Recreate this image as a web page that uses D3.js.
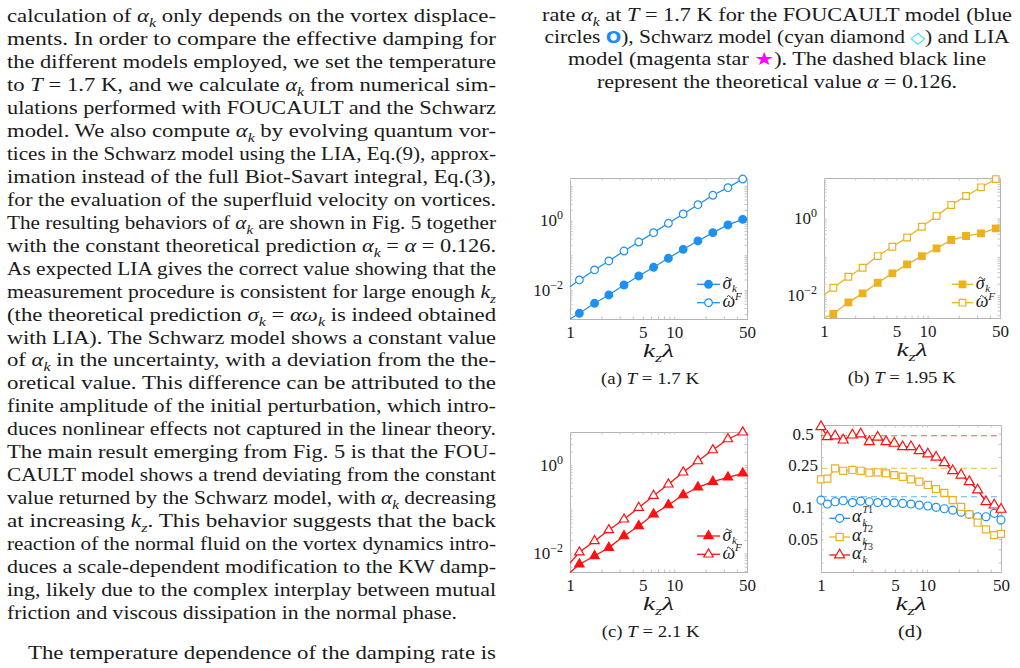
<!DOCTYPE html>
<html>
<head>
<meta charset="utf-8">
<script src="https://cdn.jsdelivr.net/npm/d3@7"></script>
<style>
  body { margin: 0; background: #fff; }
  svg { display: block; }
</style>
</head>
<body>
<div id="page"></div>
<script>
// ---- data ----
const kzRange = [1, 50];
const xTickVals = [1, 5, 10, 50];
const yTickPow = [1e-2, 1];
const yTickD = [0.05, 0.1, 0.25, 0.5];

// marker positions for panels (a)-(c)
const kzMarks = [1.23, 1.72, 2.36, 3.30, 4.57, 6.34, 8.80, 12.2, 16.9, 23.5, 32.8, 45.5];

const sigmaA = [0.00213, 0.00414, 0.00718, 0.0139, 0.0253, 0.0450, 0.0817, 0.148, 0.257, 0.446, 0.743, 1.08];
const omegaA = [0.0194, 0.0377, 0.0684, 0.132, 0.240, 0.446, 0.830, 1.54, 2.85, 5.31, 8.79, 15.6];
const startA = [0.00146, 0.01245]; // sigma, omega at kz = 1

const sigmaB = [0.00324, 0.00653, 0.0112, 0.0212, 0.0372, 0.064, 0.105, 0.167, 0.275, 0.35, 0.411, 0.555];
const omegaB = [0.0157, 0.0303, 0.0521, 0.105, 0.184, 0.32, 0.611, 1.16, 2.25, 3.86, 6.52, 10.7];
const startB = [0.00255, 0.0101];

const sigmaC = [0.00566, 0.00873, 0.0135, 0.0248, 0.0417, 0.0766, 0.124, 0.209, 0.313, 0.42, 0.527, 0.649];
const omegaC = [0.0106, 0.0191, 0.0338, 0.059, 0.108, 0.202, 0.366, 0.684, 1.23, 2.18, 3.87, 5.5];
const startC = [0.0037, 0.006];

// panel (d)
const kzD = [1, 1.15, 1.36, 1.62, 1.98, 2.37, 2.86, 3.43, 4.11, 4.92, 5.9, 7.07, 8.47, 10.2, 12.2, 14.6, 17.5, 21.0, 25.1, 30.1, 36.1, 43.2, 50];
const alphaT1 = [0.117, 0.1075, 0.113, 0.1155, 0.111, 0.1147, 0.113, 0.111, 0.111, 0.1105, 0.109, 0.1075, 0.105, 0.103, 0.100, 0.097, 0.094, 0.090, 0.086, 0.0815, 0.0815, 0.0877, 0.076];
const alphaT2 = [0.184, 0.187, 0.234, 0.222, 0.226, 0.222, 0.213, 0.215, 0.210, 0.202, 0.195, 0.184, 0.175, 0.163, 0.149, 0.137, 0.117, 0.101, 0.0859, 0.0715, 0.0618, 0.0546, 0.056];
const alphaT3 = [0.581, 0.467, 0.474, 0.434, 0.484, 0.495, 0.419, 0.461, 0.419, 0.404, 0.375, 0.375, 0.344, 0.32, 0.298, 0.265, 0.222, 0.202, 0.175, 0.146, 0.113, 0.105, 0.0957];
const alphaTheory = [0.126, 0.234, 0.477];

const bodyLines = [
  'calculation of $α_k$ only depends on the vortex displace-',
  'ments.  In order to compare the effective damping for',
  'the different models employed, we set the temperature',
  'to $T$ = 1.7 K, and we calculate $α_k$ from numerical sim-',
  'ulations performed with FOUCAULT and the Schwarz',
  'model.  We also compute $α_k$ by evolving quantum vor-',
  'tices in the Schwarz model using the LIA, Eq.(9), approx-',
  'imation instead of the full Biot-Savart integral, Eq.(3),',
  'for the evaluation of the superfluid velocity on vortices.',
  'The resulting behaviors of $α_k$ are shown in Fig. 5 together',
  'with the constant theoretical prediction $α_k$ = $α$ = 0.126.',
  'As expected LIA gives the correct value showing that the',
  'measurement procedure is consistent for large enough $k_z$',
  '(the theoretical prediction $σ_k$ = $αω_k$ is indeed obtained',
  'with LIA). The Schwarz model shows a constant value',
  'of $α_k$ in the uncertainty, with a deviation from the the-',
  'oretical value.  This difference can be attributed to the',
  'finite amplitude of the initial perturbation, which intro-',
  'duces nonlinear effects not captured in the linear theory.',
  'The main result emerging from Fig. 5 is that the FOU-',
  'CAULT model shows a trend deviating from the constant',
  'value returned by the Schwarz model, with $α_k$ decreasing',
  'at increasing $k_z$.  This behavior suggests that the back',
  'reaction of the normal fluid on the vortex dynamics intro-',
  'duces a scale-dependent modification to the KW damp-',
  'ing, likely due to the complex interplay between mutual',
  'friction and viscous dissipation in the normal phase.'
];
const lastLine = 'The temperature dependence of the damping rate is';

const captionLines = [
  'rate $α_k$ at $T$ = 1.7 K for the FOUCAULT model (blue',
  'circles ○), Schwarz model (cyan diamond ◇) and LIA',
  'model (magenta star ★). The dashed black line',
  'represent the theoretical value $α$ = 0.126.'
];
const captionWidths = [470, 465, 418, 360];

// ---- style ----
const blue = '#1e90f0';
const yellow = '#edb120';
const red = '#ff1010';
const symbolStyle = {
  '○': { text: 'O', color: '#1a8cff', weight: 'bold', size: 0.85 },
  '◇': { text: '◇', color: '#30e0f0', weight: 'normal', size: 0.9 },
  '★': { text: '★', color: '#ff00ff', weight: 'normal', size: 1.0 }
};
const ink = '#1a1a1a';

const svg = d3.select('#page').append('svg')
  .attr('width', 1020)
  .attr('height', 668)
  .style('font-family', '"Liberation Serif", "DejaVu Serif", serif')
  .attr('fill', ink);

// text with simple math: $..$ italic, _c subscript, ^c superscript
function addRich(text, str, size) {
  const runs = [];
  let math = false;
  for (let i = 0; i < str.length; i++) {
    let c = str[i];
    if (c === '$') { math = !math; continue; }
    let shift = 0;
    if (math && (c === '_' || c === '^')) {
      shift = c === '_' ? 1 : -1;
      c = str[++i];
    }
    const italic = math && /[A-Za-zα-ω]/.test(c);
    const sym = symbolStyle[c] || null;
    const last = runs[runs.length - 1];
    if (!sym && last && !last.sym && last.italic === italic && last.shift === shift) {
      last.s += c;
    } else {
      runs.push({ s: sym ? sym.text : c, italic, shift, sym });
    }
  }
  let cur = 0;
  runs.forEach(r => {
    const t = text.append('tspan').text(r.s);
    const target = r.shift === 1 ? size * 0.28 : r.shift === -1 ? -size * 0.4 : 0;
    if (target !== cur) {
      t.attr('dy', target - cur);
      cur = target;
    }
    if (r.shift) t.attr('font-size', size * 0.7);
    if (r.italic) t.attr('font-style', 'italic');
    if (r.sym) {
      t.attr('fill', r.sym.color)
        .attr('font-family', '"DejaVu Sans", sans-serif')
        .attr('font-weight', r.sym.weight)
        .attr('font-size', size * r.sym.size);
    }
  });
  return text;
}

// ---- left column ----
const bodySize = 18;
bodyLines.forEach((line, i) => {
  const t = svg.append('text')
    .attr('x', 7)
    .attr('y', 16.7 + i * 22.95 + 5.5)
    .attr('font-size', bodySize)
    .attr('textLength', i === bodyLines.length - 1 ? 450 : 489)
    .attr('lengthAdjust', 'spacingAndGlyphs');
  addRich(t, line, bodySize);
});
svg.append('text')
  .attr('x', 28)
  .attr('y', 653.3 + 5.5)
  .attr('font-size', bodySize)
  .attr('textLength', 468)
  .attr('lengthAdjust', 'spacingAndGlyphs')
  .text(lastLine);

// ---- caption at top right ----
captionLines.forEach((line, i) => {
  const t = svg.append('text')
    .attr('x', 777)
    .attr('y', 15 + i * 22.4 + 5.5)
    .attr('font-size', bodySize)
    .attr('text-anchor', 'middle')
    .attr('textLength', captionWidths[i])
    .attr('lengthAdjust', 'spacingAndGlyphs');
  addRich(t, line, bodySize);
});

// ---- panels ----
const shapes = {
  circle: { type: d3.symbolCircle, size: 46 },
  square: { type: d3.symbolSquare, size: 44 },
  triangle: { type: d3.symbolTriangle, size: 38 }
};

// tilde-accented symbol with sub/superscript, e.g. sigma~_k
function accentLabel(g, x, y, glyph, sub, sup) {
  const w = glyph === 'ω' ? 12 : 9;
  g.append('text').attr('x', x).attr('y', y)
    .attr('font-size', 18).attr('font-style', 'italic').text(glyph);
  const tx = x + w / 2 - 1.5;
  const ty = y - 11.5;
  g.append('path')
    .attr('d', `M${tx},${ty + 1} q1.5,-2.4 3,0 t3,0`)
    .attr('fill', 'none')
    .attr('stroke', ink)
    .attr('stroke-width', 0.9);
  if (sub) {
    g.append('text').attr('x', x + w + 0.5).attr('y', y + 3.5)
      .attr('font-size', 11).attr('font-style', 'italic').text(sub);
  }
  if (sup) {
    g.append('text').attr('x', x + w + 0.5).attr('y', y - 7.5)
      .attr('font-size', 11).attr('font-style', 'italic').text(sup);
  }
}

function drawPanel(p) {
  const x = d3.scaleLog().domain(kzRange).range([p.left, p.left + p.width]);
  const y = d3.scaleLog().domain(p.yDomain).range([p.top + p.height, p.top]);
  const g = svg.append('g');

  g.append('rect')
    .attr('x', p.left)
    .attr('y', p.top)
    .attr('width', p.width)
    .attr('height', p.height)
    .attr('fill', '#fff')
    .attr('stroke', '#b4b4b4')
    .attr('shape-rendering', 'crispEdges');

  // small inner ticks on all four sides
  const tickG = g.append('g');
  const xMinor = x.ticks();
  const yMinor = y.ticks();
  [[d3.axisBottom(x), `translate(0,${p.top + p.height})`, xMinor],
   [d3.axisTop(x), `translate(0,${p.top})`, xMinor],
   [d3.axisLeft(y), `translate(${p.left},0)`, yMinor],
   [d3.axisRight(y), `translate(${p.left + p.width},0)`, yMinor]]
    .forEach(([ax, tr, vals]) => {
      const a = tickG.append('g')
        .attr('transform', tr)
        .call(ax.tickValues(vals).tickSize(-2.5).tickFormat(''));
      a.select('.domain').remove();
      a.selectAll('line').attr('stroke', '#c4c4c4');
    });

  // tick labels
  const xAxis = g.append('g')
    .attr('transform', `translate(0,${p.top + p.height})`)
    .call(d3.axisBottom(x).tickValues(xTickVals).tickSize(0).tickPadding(7).tickFormat(d3.format('d')));
  xAxis.select('.domain').remove();
  xAxis.selectAll('text')
    .attr('font-family', '"Liberation Serif", serif')
    .attr('font-size', 17)
    .attr('fill', ink);

  const yAxis = g.append('g')
    .attr('transform', `translate(${p.left},0)`)
    .call(d3.axisLeft(y).tickValues(p.yTicks).tickSize(0).tickPadding(7));
  yAxis.select('.domain').remove();
  yAxis.selectAll('text')
    .attr('font-family', '"Liberation Serif", serif')
    .attr('font-size', 17)
    .attr('fill', ink);
  if (p.powLabels) {
    yAxis.selectAll('text').each(function (d) {
      const e = Math.round(Math.log10(d));
      const t = d3.select(this).text('10');
      t.append('tspan')
        .attr('dy', -7)
        .attr('font-size', 12)
        .text(e === 0 ? '0' : '−' + Math.abs(e));
    });
  } else {
    yAxis.selectAll('text')
      .attr('text-anchor', 'middle')
      .attr('x', -18)
      .text(d => String(d));
  }

  // dashed theory lines
  (p.dashed || []).forEach(dl => {
    g.append('line')
      .attr('x1', x(kzRange[0]))
      .attr('x2', x(kzRange[1]))
      .attr('y1', y(dl.value))
      .attr('y2', y(dl.value))
      .attr('stroke', dl.color)
      .attr('stroke-opacity', 0.7)
      .attr('stroke-width', 1.2)
      .attr('stroke-dasharray', '6,4');
  });

  const line = d3.line().x(d => x(d[0])).y(d => y(d[1]));

  p.series.forEach(s => {
    g.append('path')
      .datum(s.line)
      .attr('fill', 'none')
      .attr('stroke', s.color)
      .attr('stroke-width', 1.3)
      .attr('d', line);
    const sh = shapes[s.shape];
    g.selectAll(null)
      .data(s.marks)
      .join('path')
      .attr('transform', d => `translate(${x(d[0])},${y(d[1])})`)
      .attr('d', d3.symbol().type(sh.type).size(s.size || sh.size))
      .attr('fill', s.filled ? s.color : '#fff')
      .attr('stroke', s.color)
      .attr('stroke-width', 1.2);
  });

  // legend
  const lg = p.legend;
  p.series.forEach((s, i) => {
    const ly = lg.ys[i];
    g.append('line')
      .attr('x1', lg.x0).attr('x2', lg.x1)
      .attr('y1', ly).attr('y2', ly)
      .attr('stroke', s.color)
      .attr('stroke-width', 1.3);
    const sh = shapes[s.shape];
    g.append('path')
      .attr('transform', `translate(${(lg.x0 + lg.x1) / 2},${ly})`)
      .attr('d', d3.symbol().type(sh.type).size(s.size || sh.size))
      .attr('fill', s.filled ? s.color : '#fff')
      .attr('stroke', s.color)
      .attr('stroke-width', 1.2);
    if (s.accent) {
      accentLabel(g, lg.x1 + 2.5, ly + 4.5, s.accent.glyph, s.accent.sub, s.accent.sup);
    } else if (s.alphaLabel) {
      g.append('text')
        .attr('x', lg.x1 + 2).attr('y', ly + 4)
        .attr('font-size', 18).attr('font-style', 'italic')
        .text('α');
      const sup = g.append('text')
        .attr('x', lg.x1 + 12.5).attr('y', ly - 5.5)
        .attr('font-size', 10);
      sup.append('tspan').attr('font-style', 'italic').text('T');
      sup.append('tspan').text(s.alphaLabel);
      g.append('text')
        .attr('x', lg.x1 + 12.5).attr('y', ly + 8)
        .attr('font-size', 10).attr('font-style', 'italic')
        .text('k');
    }
  });

  // axis label and caption
  const kl = g.append('text')
    .attr('x', p.left + p.width / 2)
    .attr('y', p.top + p.height + 37.5)
    .attr('font-size', 19)
    .attr('text-anchor', 'middle')
    .attr('textLength', 31)
    .attr('lengthAdjust', 'spacingAndGlyphs');
  addRich(kl, '$k_zλ$', 19);

  const cap = g.append('text')
    .attr('x', p.captionX)
    .attr('y', p.top + p.height + 64.5)
    .attr('font-size', 17)
    .attr('text-anchor', 'middle')
    .attr('textLength', p.captionW)
    .attr('lengthAdjust', 'spacingAndGlyphs');
  addRich(cap, p.caption, 17);
}

function logSeries(sigma, omega, start, color, shape) {
  const sig = kzMarks.map((k, i) => [k, sigma[i]]);
  const om = kzMarks.map((k, i) => [k, omega[i]]);
  return [
    { line: [[1, start[0]], ...sig], marks: sig, color, shape, filled: true, accent: { glyph: 'σ', sub: 'k' } },
    { line: [[1, start[1]], ...om], marks: om, color, shape, filled: false, accent: { glyph: 'ω', sup: 'F' } }
  ];
}

drawPanel({
  left: 570, top: 178, width: 177, height: 141,
  yDomain: [0.00146, 16.7], yTicks: yTickPow, powLabels: true,
  series: logSeries(sigmaA, omegaA, startA, blue, 'circle'),
  legend: { x0: 697, x1: 720, ys: [284.3, 302.7] },
  captionX: 650, captionW: 98, caption: '(a) $T$ = 1.7 K'
});

drawPanel({
  left: 824, top: 178, width: 176, height: 140,
  yDomain: [0.00255, 11.4], yTicks: yTickPow, powLabels: true,
  series: logSeries(sigmaB, omegaB, startB, yellow, 'square'),
  legend: { x0: 951.7, x1: 973.3, ys: [284.3, 302.7] },
  captionX: 901.7, captionW: 108, caption: '(b) $T$ = 1.95 K'
});

drawPanel({
  left: 570, top: 432, width: 177, height: 140,
  yDomain: [0.00379, 5.58], yTicks: yTickPow, powLabels: true,
  series: logSeries(sigmaC, omegaC, startC, red, 'triangle'),
  legend: { x0: 697, x1: 720, ys: [536, 554.3] },
  captionX: 650.7, captionW: 98, caption: '(c) $T$ = 2.1 K'
});

const dSeries = [
  [alphaT1, blue, 'circle', '1'],
  [alphaT2, yellow, 'square', '2'],
  [alphaT3, red, 'triangle', '3']
].map(([vals, color, shape, lab]) => {
  const pts = kzD.map((k, i) => [k, vals[i]]);
  return { line: pts, marks: pts, color, shape, filled: false, alphaLabel: lab, size: shape === 'triangle' ? 44 : 50 };
});

drawPanel({
  left: 821, top: 425, width: 180, height: 147,
  yDomain: [0.0244, 0.603], yTicks: yTickD, powLabels: false,
  dashed: [
    { value: alphaTheory[0], color: blue },
    { value: alphaTheory[1], color: yellow },
    { value: alphaTheory[2], color: red }
  ],
  series: dSeries,
  legend: { x0: 829.3, x1: 850, ys: [518.3, 537, 555] },
  captionX: 910, captionW: 24, caption: '(d)'
});
</script>
</body>
</html>
